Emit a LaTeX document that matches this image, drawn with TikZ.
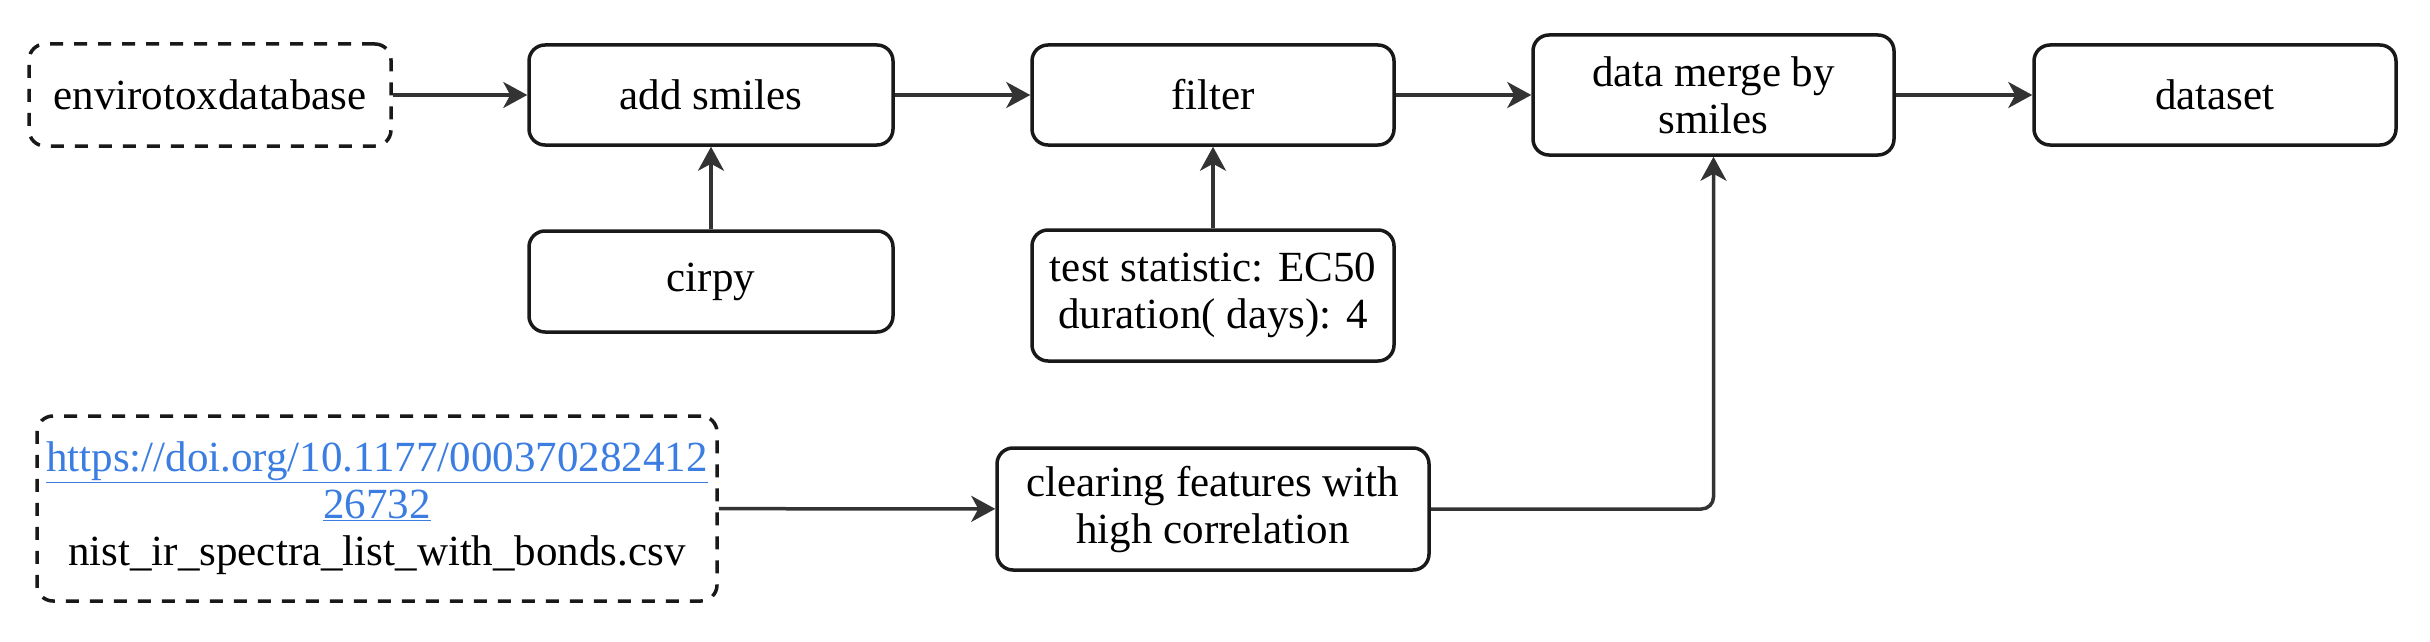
\documentclass[tikz,border=0pt]{standalone}
\usepackage{fontspec}
\setmainfont{Liberation Serif}
\usetikzlibrary{arrows.meta}
\definecolor{linkblue}{RGB}{59,125,225}
\definecolor{edgegray}{RGB}{51,51,51}
\tikzset{
  box/.style={draw=black!90, line width=3.5pt, rounded corners=16pt, align=center,
    inner sep=0pt, font=\fontsize{43}{47}\selectfont},
  dbox/.style={box, dash pattern=on 13pt off 11pt},
  conn/.style={draw=edgegray, line width=3.5pt,
    -{Stealth[length=24pt,width=26pt,inset=7pt]}}
}
\begin{document}
\begin{tikzpicture}[x=1pt,y=1pt]
\useasboundingbox (0,0) rectangle (2430,-642);
\node[dbox, minimum width=362pt, minimum height=102pt] (env) at (210,-95) {envirotoxdatabase};
\node[box, minimum width=364pt, minimum height=100pt] (add) at (711,-95) {add smiles};
\node[box, minimum width=364pt, minimum height=101pt] (cirpy) at (711,-281.5) {cirpy};
\node[box, minimum width=362pt, minimum height=100pt] (filter) at (1213,-95) {filter};
\node[box, minimum width=362pt, minimum height=131pt] (test) at (1213,-295.5) {test statistic: EC50\\duration( days): 4};
\node[box, minimum width=361pt, minimum height=120pt] (merge) at (1713.5,-95) {data merge by\\smiles};
\node[box, minimum width=362pt, minimum height=100pt] (dataset) at (2215,-95) {dataset};
\node[dbox, minimum width=680pt, minimum height=185pt] (url) at (377,-508.5)
  {\textcolor{linkblue}{\underline{https://doi.org/10.1177/000370282412}}\\
   \textcolor{linkblue}{\underline{26732}}\\
   nist\_ir\_spectra\_list\_with\_bonds.csv};
\node[box, minimum width=432pt, minimum height=122pt] (clear) at (1213,-509) {clearing features with\\high correlation};
\draw[conn] (env) -- (add);
\draw[conn] (add) -- (filter);
\draw[conn] (filter) -- (merge);
\draw[conn] (merge) -- (dataset);
\draw[conn] (cirpy) -- (add);
\draw[conn] (test) -- (filter);
\draw[conn] (url) -- (clear);
\draw[conn, rounded corners=12pt] (clear.east) -- (clear.east -| merge.south) -- (merge.south);
\end{tikzpicture}
\end{document}
